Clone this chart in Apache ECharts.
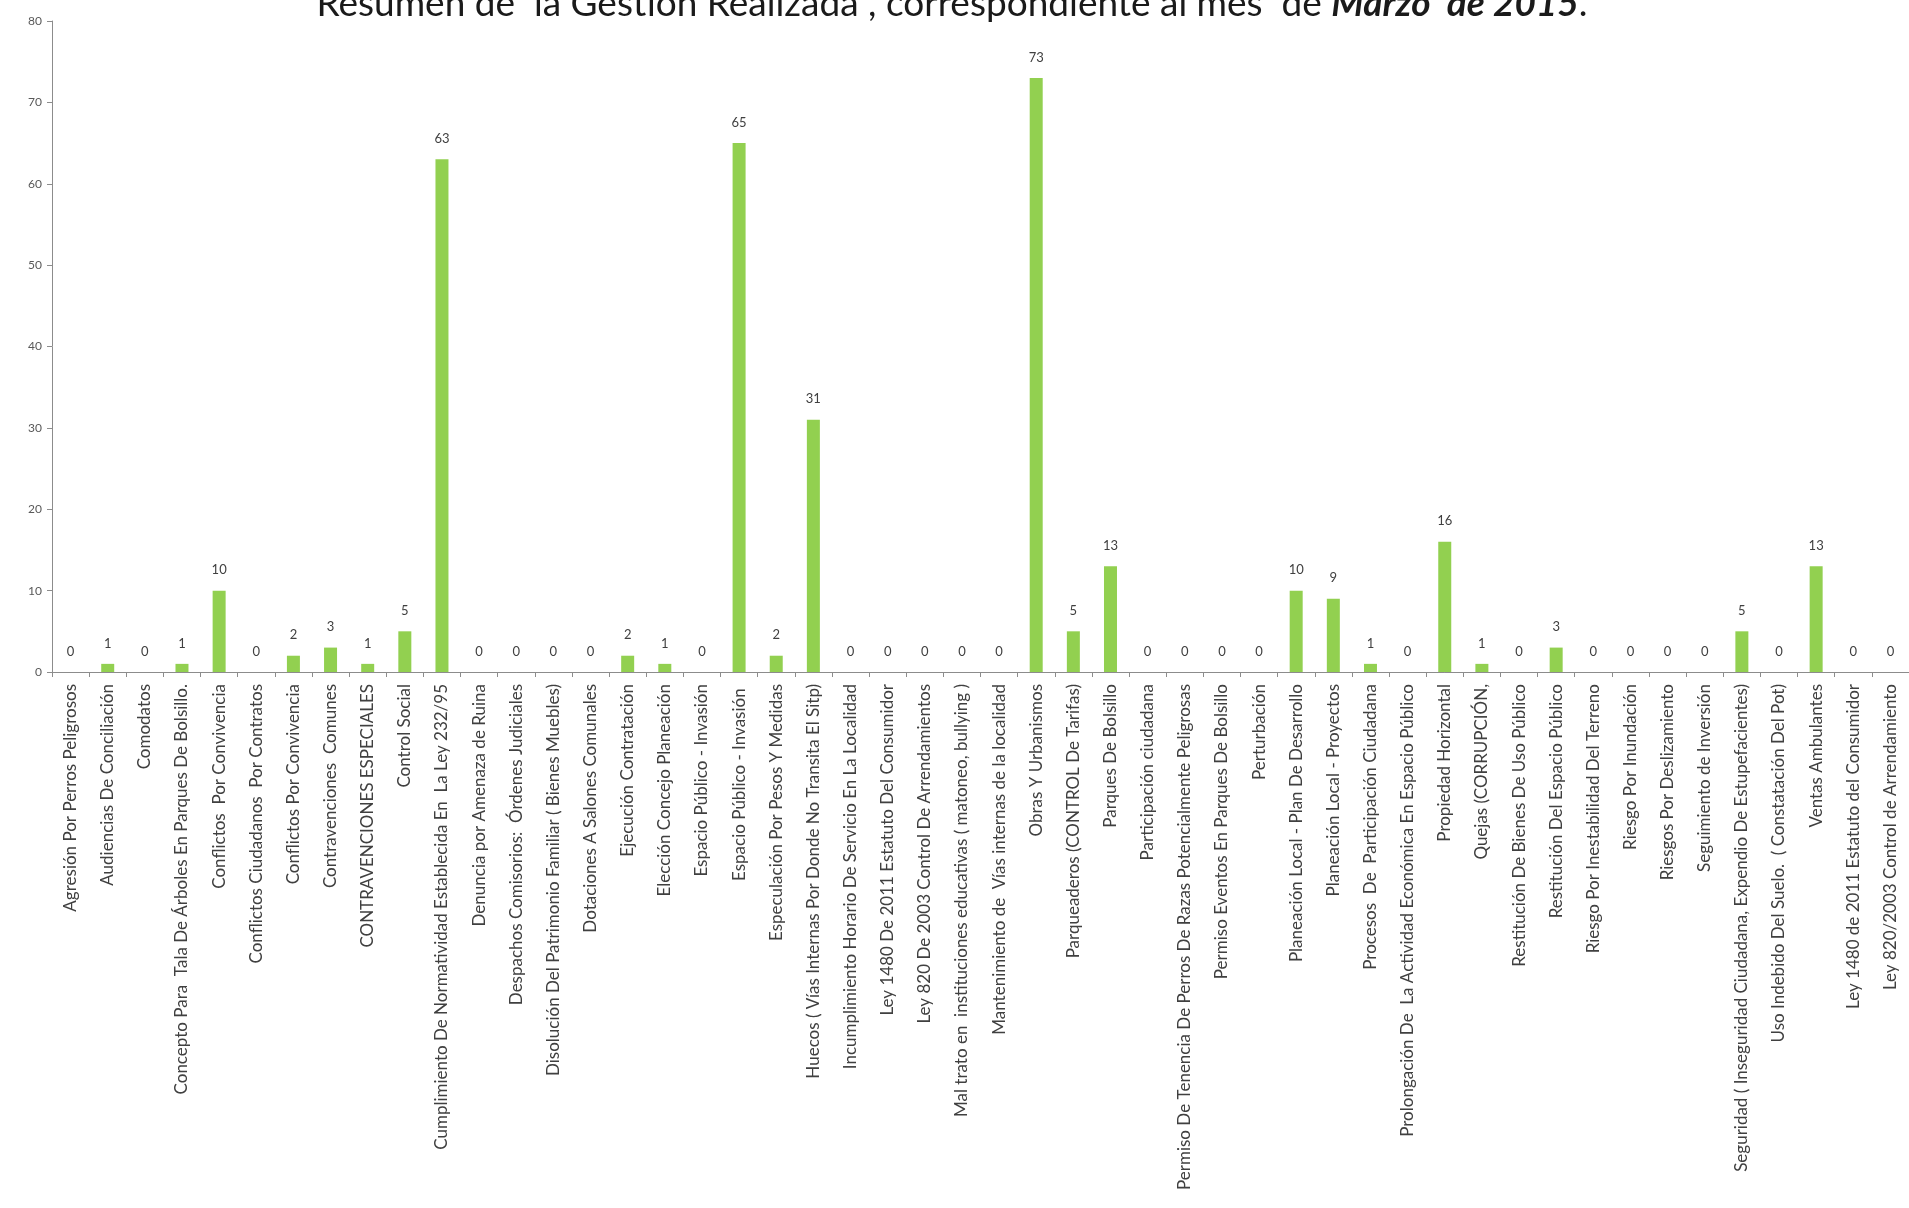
<!DOCTYPE html>
<html>
<head>
<meta charset="utf-8">
<script src="https://cdn.jsdelivr.net/npm/echarts@6/dist/echarts.min.js"></script>
<style>
html,body{margin:0;padding:0;background:#fff;}
#chart{width:1909px;height:1208px;}
</style>
</head>
<body>
<div id="chart"></div>
<script>
const categories = [
  "Agresión Por Perros Peligrosos",
  "Audiencias De Conciliación",
  "Comodatos",
  "Concepto Para  Tala De Árboles En Parques De Bolsillo.",
  "Conflictos  Por Convivencia",
  "Conflictos Ciudadanos  Por Contratos",
  "Conflictos Por Convivencia",
  "Contravenciones  Comunes",
  "CONTRAVENCIONES ESPECIALES",
  "Control Social",
  "Cumplimiento De Normatividad Establecida En  La Ley 232/95",
  "Denuncia por Amenaza de Ruina",
  "Despachos Comisorios:  Órdenes Judiciales",
  "Disolución Del Patrimonio Familiar ( Bienes Muebles)",
  "Dotaciones A Salones Comunales",
  "Ejecución Contratación",
  "Elección Concejo Planeación",
  "Espacio Público - Invasión",
  "Espacio Público - Invasión ",
  "Especulación Por Pesos Y Medidas",
  "Huecos ( Vías Internas Por Donde No Transita El Sitp)",
  "Incumplimiento Horario De Servicio En La Localidad",
  "Ley 1480 De 2011 Estatuto Del Consumidor",
  "Ley 820 De 2003 Control De Arrendamientos",
  "Mal trato en  instituciones educativas ( matoneo, bullying )",
  "Mantenimiento de  Vías internas de la localidad",
  "Obras Y Urbanismos",
  "Parqueaderos (CONTROL De Tarifas)",
  "Parques De Bolsillo",
  "Participación ciudadana",
  "Permiso De Tenencia De Perros De Razas Potencialmente Peligrosas",
  "Permiso Eventos En Parques De Bolsillo",
  "Perturbación",
  "Planeación Local - Plan De Desarrollo",
  "Planeación Local - Proyectos",
  "Procesos  De  Participación Ciudadana",
  "Prolongación De  La Actividad Económica En Espacio Público",
  "Propiedad Horizontal",
  "Quejas (CORRUPCIÓN,",
  "Restitución De Bienes De Uso Público",
  "Restitución Del Espacio Público",
  "Riesgo Por Inestabilidad Del Terreno",
  "Riesgo Por Inundación",
  "Riesgos Por Deslizamiento",
  "Seguimiento de Inversión",
  "Seguridad ( Inseguridad Ciudadana, Expendio De Estupefacientes)",
  "Uso Indebido Del Suelo.  ( Constatación Del Pot)",
  "Ventas Ambulantes",
  "Ley 1480 de 2011 Estatuto del Consumidor",
  "Ley 820/2003 Control de Arrendamiento"
];
const values = [
  0, 1, 0, 1, 10, 0, 2, 3, 1, 5,
  63, 0, 0, 0, 0, 2, 1, 0, 65, 2,
  31, 0, 0, 0, 0, 0, 73, 5, 13, 0,
  0, 0, 0, 10, 9, 1, 0, 16, 1, 0,
  3, 0, 0, 0, 0, 5, 0, 13, 0, 0
];
const titleMain = "Resumen de  la Gestión Realizada , correspondiente al mes  de ";
const titleEmph = "Marzo  de 2015";
const titleEnd = ".";

const chart = echarts.init(document.getElementById('chart'), null, {renderer: 'canvas'});
chart.setOption({
  backgroundColor: '#ffffff',
  animation: false,
  title: {
    text: '{a|' + titleMain + '}{b|' + titleEmph + '}{a|' + titleEnd + '}',
    left: 947,
    textAlign: 'center',
    top: -19,
    textStyle: {
      rich: {
        a: {fontFamily: 'Lato', fontSize: 37, color: '#1a1a1a', fontWeight: 'normal'},
        b: {fontFamily: 'Lato', fontSize: 37, color: '#1a1a1a', fontWeight: 'bold', fontStyle: 'italic'}
      }
    }
  },
  grid: {left: 52, top: 21, width: 1864, bottom: 536, containLabel: false},
  xAxis: {
    type: 'category',
    data: categories,
    axisLine: {lineStyle: {color: '#8c8c8c', width: 1}},
    axisTick: {show: true, length: 5, lineStyle: {color: '#8c8c8c'}},
    axisLabel: {
      interval: 0, rotate: 90, margin: 12,
      fontFamily: 'Lato', fontSize: 17, color: '#404040'
    }
  },
  yAxis: {
    type: 'value',
    min: 0, max: 80, interval: 10,
    axisLine: {show: true, lineStyle: {color: '#8c8c8c', width: 1}},
    axisTick: {show: true, length: 5, lineStyle: {color: '#8c8c8c'}},
    splitLine: {show: false},
    axisLabel: {fontFamily: 'Lato', fontSize: 12, color: '#595959', margin: 10}
  },
  series: [{
    type: 'bar',
    data: values,
    barWidth: 13,
    itemStyle: {color: '#92D050'},
    label: {
      show: true, position: 'top', distance: 14,
      fontFamily: 'Lato', fontSize: 13, color: '#404040'
    }
  }]
});
</script>
</body>
</html>
